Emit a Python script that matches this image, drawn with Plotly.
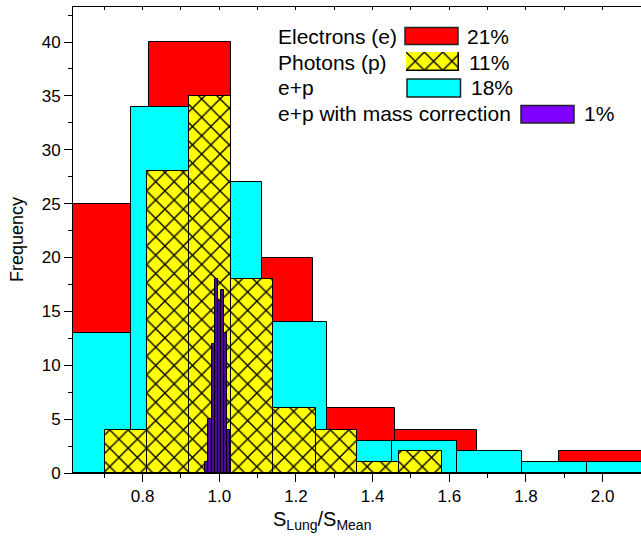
import numpy as np
import plotly.graph_objects as go

# ---------------- data ----------------
red_edges = [0.601, 0.816, 1.030, 1.244, 1.459, 1.673, 1.887, 2.102]
red_counts = [25, 40, 20, 6, 4, 0, 2]

cyan_edges = [0.602, 0.771, 0.941, 1.111, 1.280, 1.450, 1.620, 1.790, 1.959, 2.129]
cyan_counts = [13, 34, 27, 14, 3, 3, 2, 1, 1]

yellow_edges = [0.701, 0.811, 0.921, 1.031, 1.141, 1.251, 1.360, 1.470, 1.580]
yellow_counts = [4, 28, 35, 18, 6, 4, 1, 2]

purple_edges = [0.9635, 0.9717, 0.9799, 0.9881, 0.9963, 1.0045, 1.0127, 1.0209, 1.0291]
purple_counts = [1, 5, 12, 18, 16, 17, 13, 4]

legend_names = ["Electrons (e)", "Photons (p)", "e+p", "e+p with mass correction"]
legend_pcts = ["21%", "11%", "18%", "1%"]

x_range = [0.6185, 2.100]
y_range = [0, 43.25]

W, H = 641, 542
ML, MR, MT, MB = 73, 0, 7, 69
PW, PH = W - ML - MR, H - MT - MB


def px2x(px):
    return (px - ML) / PW


def py2y(py):
    return (H - MB - py) / PH


def centers_widths(edges):
    e = np.asarray(edges, dtype=float)
    return (e[:-1] + e[1:]) / 2, np.diff(e)


FONT = "Liberation Sans, Arial, sans-serif"
HATCH = dict(shape="x", fgcolor="black", bgcolor="#FFFF00", size=13,
             solidity=0.2, fillmode="replace", fgopacity=1)
fig = go.Figure()

for edges, counts, color, hatch in [
    (red_edges, red_counts, "#FF0000", False),
    (cyan_edges, cyan_counts, "#00FFFF", False),
    (yellow_edges, yellow_counts, "#FFFF00", True),
    (purple_edges, purple_counts, "#4B0A96", False),
]:
    c, w = centers_widths(edges)
    marker = dict(color=color, line=dict(color="black", width=1))
    if hatch:
        marker["pattern"] = HATCH
    fig.add_trace(go.Bar(x=c, y=counts, width=w, base=0, marker=marker,
                         showlegend=False, hoverinfo="skip"))

# invisible trace to activate the top mirror axis
fig.add_trace(go.Scatter(x=[x_range[0]], y=[0], xaxis="x2", yaxis="y",
                         mode="markers", marker=dict(opacity=0),
                         showlegend=False, hoverinfo="skip"))

# hatched legend swatch drawn as a bar on a tiny hidden axis
fig.add_trace(go.Bar(x=[0.5], y=[1], width=[1], base=0, xaxis="x3", yaxis="y3",
                     marker=dict(color="#FFFF00", line=dict(color="black", width=1.5),
                                 pattern=HATCH),
                     showlegend=False, hoverinfo="skip"))

fig.update_layout(
    width=W, height=H,
    margin=dict(l=ML, r=MR, t=MT, b=MB, pad=0),
    paper_bgcolor="white", plot_bgcolor="white",
    barmode="overlay", bargap=0,
    font=dict(family=FONT, color="black", size=16),
    xaxis=dict(range=x_range, showgrid=False, zeroline=False,
               showline=True, linecolor="black", linewidth=1,
               ticks="outside", ticklen=8, tickwidth=1, tickcolor="black",
               tick0=0.8, dtick=0.2, tickformat=".1f",
               tickfont=dict(size=17, family=FONT),
               minor=dict(dtick=0.1, ticks="outside", ticklen=4, tickcolor="black")),
    xaxis2=dict(overlaying="x", matches="x", side="top", range=x_range,
                showgrid=False, zeroline=False, showline=True, linecolor="black",
                linewidth=1, ticks="inside", ticklen=3, tickcolor="black",
                tick0=0, dtick=0.1, showticklabels=False),
    yaxis=dict(range=y_range, showgrid=False, zeroline=False,
               showline=True, linecolor="black", linewidth=1,
               ticks="outside", ticklen=8, tickwidth=1, tickcolor="black",
               tick0=0, dtick=5, tickfont=dict(size=17, family=FONT),
               minor=dict(dtick=2.5, ticks="outside", ticklen=4, tickcolor="black")),
    xaxis3=dict(domain=[px2x(406), px2x(459)], range=[0, 1], visible=False,
                anchor="y3", fixedrange=True),
    yaxis3=dict(domain=[py2y(71), py2y(52)], range=[0, 1], visible=False,
                anchor="x3", fixedrange=True),
)

# axis titles
fig.add_annotation(x=px2x(17), y=0.5, xref="paper", yref="paper",
                   text="Frequency", textangle=-90, showarrow=False,
                   font=dict(size=18, family=FONT), xanchor="center", yanchor="middle")
fig.add_annotation(x=px2x(322), y=py2y(520), xref="paper", yref="paper",
                   text="S<sub>Lung</sub>/S<sub>Mean</sub>", showarrow=False,
                   font=dict(size=20, family=FONT), xanchor="center", yanchor="middle")

# legend text and swatches
text_y = [36, 62, 88, 114]
sw = [(405, 458, 27.5, 44.5, "#FF0000"), None, (407, 460.5, 79, 97, "#00FFFF"),
      (521, 574, 105.5, 123, "#7F00FF")]
pct_x = [465, 467, 469, 582]
for i, name in enumerate(legend_names):
    fig.add_annotation(x=px2x(276), y=py2y(text_y[i]), xref="paper", yref="paper",
                       text=name, showarrow=False, xanchor="left", yanchor="middle",
                       font=dict(size=21, family=FONT))
    fig.add_annotation(x=px2x(pct_x[i]), y=py2y(text_y[i]), xref="paper", yref="paper",
                       text=legend_pcts[i], showarrow=False, xanchor="left", yanchor="middle",
                       font=dict(size=21, family=FONT))
    if sw[i] is not None:
        x0, x1, y0, y1, col = sw[i]
        fig.add_shape(type="rect", xref="paper", yref="paper",
                      x0=px2x(x0), x1=px2x(x1), y0=py2y(y1), y1=py2y(y0),
                      fillcolor=col, line=dict(color="#222222", width=1.5))

fig.write_html("out.html", config={"displayModeBar": False},
               post_script="document.body.style.margin='0';document.body.style.padding='0';")
